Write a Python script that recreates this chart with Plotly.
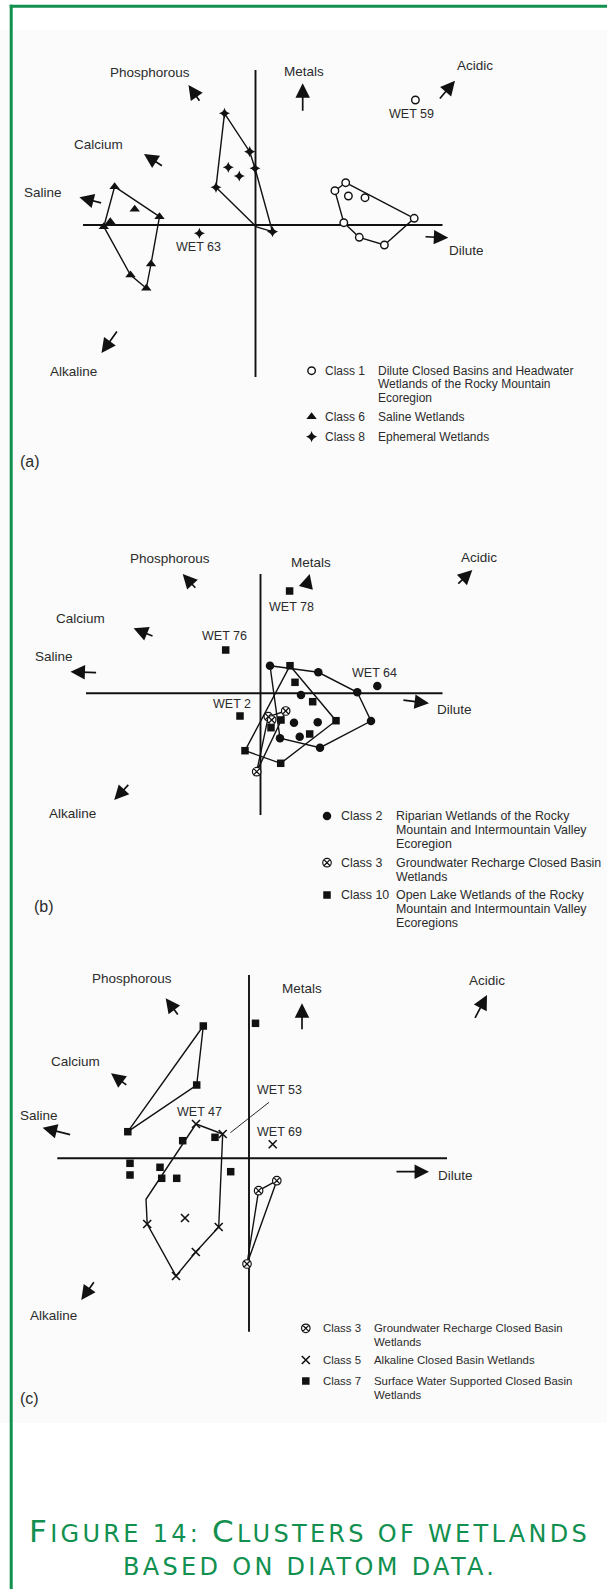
import plotly.graph_objects as go

W, H = 607, 1589
UNIT = 10.0  # pixels per ordination unit

# ---------------- shared ----------------
arrow_names = ["Phosphorous", "Metals", "Acidic", "Calcium", "Saline", "Dilute", "Alkaline"]

# ---------------- panel (a) ----------------
a_tail_x = [-5.50, 4.72, 18.31, -9.21, -15.29, 16.85, -13.75]
a_tail_y = [12.27, 11.27, 12.50, 5.83, 2.17, -1.17, -10.50]
a_head_x = [-6.70, 4.72, 19.95, -11.15, -17.61, 19.28, -15.40]
a_head_y = [14.00, 14.17, 14.43, 7.10, 2.77, -1.27, -12.80]
a_lab_x = [-10.55, 4.85, 21.95, -15.75, -21.29, 21.11, -18.20]
a_lab_y = [15.23, 15.40, 16.00, 8.10, 3.23, -2.50, -14.60]
a_axis_h = [-17.25, 18.70]
a_axis_v = [15.50, -15.20]

a_c1_x = [9.02, 7.94, 9.29, 10.95, 15.87, 8.83, 10.38, 12.89, 15.99]
a_c1_y = [4.23, 3.43, 2.90, 2.73, 0.67, 0.23, -1.23, -2.00, 12.50]
a_c1_hull_x = [9.02, 15.87, 12.89, 10.38, 8.83, 7.94, 9.02]
a_c1_hull_y = [4.23, 0.67, -2.00, -1.23, 0.23, 3.43, 4.23]

a_c6_x = [-14.09, -9.60, -10.92, -15.17, -14.52, -12.08, -10.45, -12.50]
a_c6_y = [3.83, 0.83, -6.33, -0.17, 0.33, 1.57, -3.90, -5.00]
a_c6_hull_x = [-14.09, -9.60, -10.45, -10.92, -12.50, -15.17, -14.09]
a_c6_hull_y = [3.83, 0.83, -3.90, -6.33, -5.00, -0.17, 3.83]

a_c8_x = [-3.10, -0.58, -0.05, 1.70, -3.95, -2.72, -1.62, -5.61]
a_c8_y = [11.17, 7.33, 5.67, -0.67, 3.77, 5.77, 4.90, -0.83]
a_c8_hull_x = [-3.10, -0.58, -0.05, 1.70, 0.10, -3.95, -3.10]
a_c8_hull_y = [11.17, 7.33, 5.67, -0.67, -0.20, 3.77, 11.17]

a_wet_names = ["WET 59", "WET 63"]
a_wet_x = [15.61, -5.75]
a_wet_y = [11.07, -2.23]

a_leg_class = ["Class 1", "Class 6", "Class 8"]
a_leg_desc = [["Dilute Closed Basins and Headwater", "Wetlands of the Rocky Mountain", "Ecoregion"],
              ["Saline Wetlands"],
              ["Ephemeral Wetlands"]]

# ---------------- panel (b) ----------------
b_tail_x = [-6.38, 4.53, 19.63, -10.65, -16.29, 14.14, -13.08]
b_tail_y = [10.40, 10.50, 10.83, 5.66, 2.06, -0.67, -9.00]
b_head_x = [-7.78, 4.92, 21.18, -12.69, -19.00, 16.85, -14.63]
b_head_y = [11.93, 11.93, 12.33, 6.50, 2.16, -1.00, -10.67]
b_lab_x = [-9.05, 5.05, 21.85, -17.98, -20.69, 19.40, -18.85]
b_lab_y = [13.50, 13.06, 13.60, 7.50, 3.66, -1.57, -12.00]
b_axis_h = [-17.45, 18.20]
b_axis_v = [11.93, -12.17]

b_c2_x = [0.95, 5.78, 9.68, 11.05, 5.95, 1.95, 4.05, 3.35, 5.72, 3.92, 11.68]
b_c2_y = [2.76, 2.10, 0.10, -2.77, -5.44, -4.50, -0.17, -2.94, -2.90, -4.34, 0.73]
b_c2_hull_x = [0.95, 5.78, 9.68, 11.05, 5.95, 1.95, 0.95]
b_c2_hull_y = [2.76, 2.10, 0.10, -2.77, -5.44, -4.50, 2.76]

b_c3_x = [2.52, 0.78, 1.12, -0.38]
b_c3_y = [-1.77, -2.34, -2.67, -7.84]
b_c3_hull_x = [2.52, 0.78, -0.38, 2.52]
b_c3_hull_y = [-1.77, -2.34, -7.84, -1.77]

b_c10_x = [2.95, 3.45, 5.22, 7.55, 2.05, 1.05, 4.92, -1.55, 2.02, -2.05, 2.91, -3.48]
b_c10_y = [2.76, 1.10, -0.84, -2.74, -2.67, -3.44, -4.07, -5.74, -7.00, -2.27, 10.23, 4.33]
b_c10_hull_x = [2.95, 7.55, 2.02, -1.55, 2.95]
b_c10_hull_y = [2.76, -2.74, -7.00, -5.74, 2.76]

b_wet_names = ["WET 78", "WET 76", "WET 64", "WET 2"]
b_wet_x = [3.05, -3.60, 11.43, -2.85]
b_wet_y = [8.66, 5.73, 2.06, -1.07]

b_leg_class = ["Class 2", "Class 3", "Class 10"]
b_leg_desc = [["Riparian Wetlands of the Rocky", "Mountain and Intermountain Valley", "Ecoregion"],
              ["Groundwater Recharge Closed Basin", "Wetlands"],
              ["Open Lake Wetlands of the Rocky", "Mountain and Intermountain Valley", "Ecoregions"]]

# ---------------- panel (c) ----------------
c_tail_x = [-7.01, 5.30, 22.53, -12.12, -17.74, 14.60, -15.41]
c_tail_y = [14.23, 12.76, 13.90, 7.23, 2.33, -1.34, -12.24]
c_head_x = [-8.33, 5.30, 23.80, -13.80, -20.64, 18.00, -16.77]
c_head_y = [16.00, 15.50, 16.33, 8.50, 3.06, -1.34, -14.17]
c_lab_x = [-11.70, 5.26, 23.78, -17.34, -21.00, 20.60, -19.60]
c_lab_y = [18.00, 17.00, 17.73, 9.66, 4.33, -1.67, -15.67]
c_axis_h = [-19.17, 19.80]
c_axis_v = [18.33, -17.34]

c_c3_x = [0.96, 2.78, -0.20]
c_c3_y = [-3.24, -2.24, -10.57]
c_c3_hull_x = [0.96, 2.78, -0.20, 0.96]
c_c3_hull_y = [-3.24, -2.24, -10.57, -3.24]

c_c5_x = [-5.30, -2.63, -3.03, -5.32, -7.30, -10.18, -6.40, 2.37]
c_c5_y = [3.43, 2.43, -6.87, -9.37, -11.77, -6.57, -5.97, 1.40]
c_c5_hull_x = [-5.30, -2.63, -3.03, -5.32, -7.30, -10.18, -10.30, -5.30]
c_c5_hull_y = [3.43, 2.43, -6.87, -9.37, -11.77, -6.57, -4.10, 3.43]

c_c7_x = [0.65, -4.57, -5.23, -12.12, -6.63, -3.40, -11.90, -11.90, -8.90, -8.73, -7.23, -1.83]
c_c7_y = [13.50, 13.23, 7.33, 2.66, 1.76, 2.10, -0.50, -1.67, -0.90, -2.00, -2.00, -1.34]
c_c7_hull_x = [-4.57, -5.23, -12.12, -4.57]
c_c7_hull_y = [13.23, 7.33, 2.66, 13.23]

c_wet_names = ["WET 53", "WET 47", "WET 69"]
c_wet_x = [3.00, -5.00, 3.00]
c_wet_y = [6.83, 4.66, 2.66]
c_leader_x = [2.00, -1.86]
c_leader_y = [5.60, 2.56]

c_leg_class = ["Class 3", "Class 5", "Class 7"]
c_leg_desc = [["Groundwater Recharge Closed Basin", "Wetlands"],
              ["Alkaline Closed Basin Wetlands"],
              ["Surface Water Supported Closed Basin", "Wetlands"]]

panel_tags = ["(a)", "(b)", "(c)"]
caption_lines = [("F", "IGURE 14: ", "C", "LUSTERS OF WETLANDS"), ("", "BASED ON DIATOM DATA.", "", "")]

# ---------------- styles ----------------
INK = "#111111"
TXT = "#2b2b2b"
GREEN = "#11904f"
FONT = "Liberation Sans, Arial, sans-serif"

M_OPEN_CIRCLE = dict(symbol="circle", size=7.5, color="white", line=dict(color=INK, width=1.4))
M_TRIANGLE = dict(symbol="triangle-up", size=9, color=INK, line=dict(width=0))
M_STAR = dict(symbol="star-diamond", size=8, color=INK, line=dict(width=0))
M_DOT = dict(symbol="circle", size=8.5, color=INK, line=dict(width=0))
M_CIRCX = dict(symbol="circle-x", size=8.5, color="white", line=dict(color=INK, width=1.2))
M_SQUARE = dict(symbol="square", size=7.5, color=INK, line=dict(width=0))
M_X = dict(symbol="x-thin", size=8, color=INK, line=dict(color=INK, width=1.6))

fig = go.Figure()

def px2paper_y(p):
    return 1 - p / H

# panel layout: origin in pixels, vertical pixel band
panel_geom = [
    dict(ox=255.5, oy=225.0, top=0, bot=480),
    dict(ox=260.5, oy=693.3, top=480, bot=950),
    dict(ox=249.0, oy=1158.3, top=950, bot=H),
]

layout_axes = {}
for i, g in enumerate(panel_geom):
    sx = "" if i == 0 else str(i + 1)
    layout_axes["xaxis" + sx] = dict(
        domain=[0, 1], range=[(0 - g["ox"]) / UNIT, (W - g["ox"]) / UNIT],
        visible=False, fixedrange=True, anchor="y" + sx)
    layout_axes["yaxis" + sx] = dict(
        domain=[px2paper_y(g["bot"]), px2paper_y(g["top"])],
        range=[(g["oy"] - g["bot"]) / UNIT, (g["oy"] - g["top"]) / UNIT],
        visible=False, fixedrange=True, anchor="x" + sx)
# overlay axes in pixel units (for legends / tags)
layout_axes["xaxis4"] = dict(domain=[0, 1], range=[0, W], visible=False, fixedrange=True, anchor="y4")
layout_axes["yaxis4"] = dict(domain=[0, 1], range=[H, 0], visible=False, fixedrange=True, anchor="x4")

annotations = []

def line_trace(x, y, xa, ya, width=1.4):
    fig.add_trace(go.Scatter(x=x, y=y, mode="lines", xaxis=xa, yaxis=ya,
                             line=dict(color=INK, width=width), hoverinfo="skip", showlegend=False))

def marker_trace(x, y, xa, ya, m):
    fig.add_trace(go.Scatter(x=x, y=y, mode="markers", xaxis=xa, yaxis=ya,
                             marker=m, hoverinfo="skip", showlegend=False))

panels = [
    dict(tx=a_tail_x, ty=a_tail_y, hx=a_head_x, hy=a_head_y, lx=a_lab_x, ly=a_lab_y,
         ah=a_axis_h, av=a_axis_v,
         classes=[(a_c1_x, a_c1_y, a_c1_hull_x, a_c1_hull_y, M_OPEN_CIRCLE),
                  (a_c6_x, a_c6_y, a_c6_hull_x, a_c6_hull_y, M_TRIANGLE),
                  (a_c8_x, a_c8_y, a_c8_hull_x, a_c8_hull_y, M_STAR)],
         wn=a_wet_names, wx=a_wet_x, wy=a_wet_y,
         leg_class=a_leg_class, leg_desc=a_leg_desc,
         leg=dict(mx=311.6, cx=323, dx=375.5, ys=[370.7, 416.7, 436.7], lh=13.7, fs=12.0),
         leg_markers=[M_OPEN_CIRCLE, M_TRIANGLE, M_STAR],
         tag=(29.8, 461.7)),
    dict(tx=b_tail_x, ty=b_tail_y, hx=b_head_x, hy=b_head_y, lx=b_lab_x, ly=b_lab_y,
         ah=b_axis_h, av=b_axis_v,
         classes=[(b_c2_x, b_c2_y, b_c2_hull_x, b_c2_hull_y, M_DOT),
                  (b_c10_x, b_c10_y, b_c10_hull_x, b_c10_hull_y, M_SQUARE),
                  (b_c3_x, b_c3_y, b_c3_hull_x, b_c3_hull_y, M_CIRCX)],
         wn=b_wet_names, wx=b_wet_x, wy=b_wet_y,
         leg_class=b_leg_class, leg_desc=b_leg_desc,
         leg=dict(mx=327, cx=339, dx=394, ys=[816, 862.7, 895], lh=14.1, fs=12.4),
         leg_markers=[M_DOT, M_CIRCX, M_SQUARE],
         tag=(44, 906.7)),
    dict(tx=c_tail_x, ty=c_tail_y, hx=c_head_x, hy=c_head_y, lx=c_lab_x, ly=c_lab_y,
         ah=c_axis_h, av=c_axis_v,
         classes=[(c_c7_x, c_c7_y, c_c7_hull_x, c_c7_hull_y, M_SQUARE),
                  (c_c5_x, c_c5_y, c_c5_hull_x, c_c5_hull_y, M_X),
                  (c_c3_x, c_c3_y, c_c3_hull_x, c_c3_hull_y, M_CIRCX)],
         wn=c_wet_names, wx=c_wet_x, wy=c_wet_y,
         leg_class=c_leg_class, leg_desc=c_leg_desc,
         leg=dict(mx=305.8, cx=320.6, dx=371.5, ys=[1328.3, 1360, 1381], lh=13.6, fs=11.4),
         leg_markers=[M_CIRCX, M_X, M_SQUARE],
         tag=(29, 1398)),
]

for i, p in enumerate(panels):
    sx = "" if i == 0 else str(i + 1)
    xa, ya = "x" + sx, "y" + sx
    # ordination axes
    line_trace(p["ah"], [0, 0], xa, ya, width=1.9)
    line_trace([0, 0], p["av"], xa, ya, width=1.9)
    # hulls
    for cx, cy, hx, hy, m in p["classes"]:
        line_trace(hx, hy, xa, ya, width=1.4)
    if i == 2:
        line_trace(c_leader_x, c_leader_y, xa, ya, width=0.9)
    # points
    for cx, cy, hx, hy, m in p["classes"]:
        marker_trace(cx, cy, xa, ya, m)
    # environmental arrows
    for k, name in enumerate(arrow_names):
        annotations.append(dict(
            x=p["hx"][k], y=p["hy"][k], ax=p["tx"][k], ay=p["ty"][k],
            xref=xa, yref=ya, axref=xa, ayref=ya, text="", showarrow=True,
            arrowhead=2, arrowsize=1.7, arrowwidth=1.7, arrowcolor=INK, standoff=0, startstandoff=0))
        annotations.append(dict(
            x=p["lx"][k], y=p["ly"][k], xref=xa, yref=ya, text=name, showarrow=False,
            xanchor="center", yanchor="middle", font=dict(family=FONT, size=13.5, color=TXT)))
    # site labels
    for k, name in enumerate(p["wn"]):
        annotations.append(dict(
            x=p["wx"][k], y=p["wy"][k], xref=xa, yref=ya, text=name, showarrow=False,
            xanchor="center", yanchor="middle", font=dict(family=FONT, size=12.5, color=TXT)))
    # legend
    lg = p["leg"]
    for k in range(3):
        marker_trace([lg["mx"]], [lg["ys"][k]], "x4", "y4", p["leg_markers"][k])
        annotations.append(dict(
            x=lg["cx"], y=lg["ys"][k], xref="x4", yref="y4", text=p["leg_class"][k], showarrow=False,
            xanchor="left", yanchor="middle", font=dict(family=FONT, size=lg["fs"], color=TXT)))
        for j, line in enumerate(p["leg_desc"][k]):
            annotations.append(dict(
                x=lg["dx"], y=lg["ys"][k] + j * lg["lh"], xref="x4", yref="y4", text=line,
                showarrow=False, xanchor="left", yanchor="middle",
                font=dict(family=FONT, size=lg["fs"], color=TXT)))
    # panel tag
    annotations.append(dict(
        x=p["tag"][0], y=p["tag"][1], xref="x4", yref="y4", text=panel_tags[i], showarrow=False,
        xanchor="center", yanchor="middle", font=dict(family=FONT, size=16, color=TXT)))

# caption (small caps)
CAP_BIG, CAP_SMALL, LS = 31, 24, 3.3
cap_ys = [1531, 1567]
for k, (b1, s1, b2, s2) in enumerate(caption_lines):
    txt = ""
    for big, small in ((b1, s1), (b2, s2)):
        if big:
            txt += f"<span style='font-size:{CAP_BIG}px;letter-spacing:{LS}px'>{big}</span>"
        if small:
            txt += f"<span style='font-size:{CAP_SMALL}px;letter-spacing:{LS}px'>{small}</span>"
    annotations.append(dict(
        x=309.5, y=cap_ys[k], xref="x4", yref="y4", text=txt, showarrow=False,
        xanchor="center", yanchor="middle",
        font=dict(family="DejaVu Sans, sans-serif", size=CAP_SMALL, color=GREEN)))

shapes = [
    dict(type="rect", xref="paper", yref="paper", x0=0, x1=1,
         y0=px2paper_y(1423), y1=px2paper_y(30), fillcolor="#fbfbfb", line=dict(width=0), layer="below"),
    dict(type="line", xref="paper", yref="paper", x0=11.2 / W, x1=11.2 / W,
         y0=0, y1=px2paper_y(4.8), line=dict(color=GREEN, width=3), layer="above"),
    dict(type="line", xref="paper", yref="paper", x0=9.7 / W, x1=1,
         y0=px2paper_y(6.2), y1=px2paper_y(6.2), line=dict(color=GREEN, width=3), layer="above"),
]

fig.update_layout(
    width=W, height=H, margin=dict(l=0, r=0, t=0, b=0),
    paper_bgcolor="white", plot_bgcolor="rgba(0,0,0,0)",
    showlegend=False, annotations=annotations, shapes=shapes,
    **layout_axes)

fig.write_html("out.html", include_plotlyjs=True, full_html=True,
               config=dict(staticPlot=True, displayModeBar=False),
               post_script="document.body.style.margin='0';document.body.style.overflow='hidden';")
